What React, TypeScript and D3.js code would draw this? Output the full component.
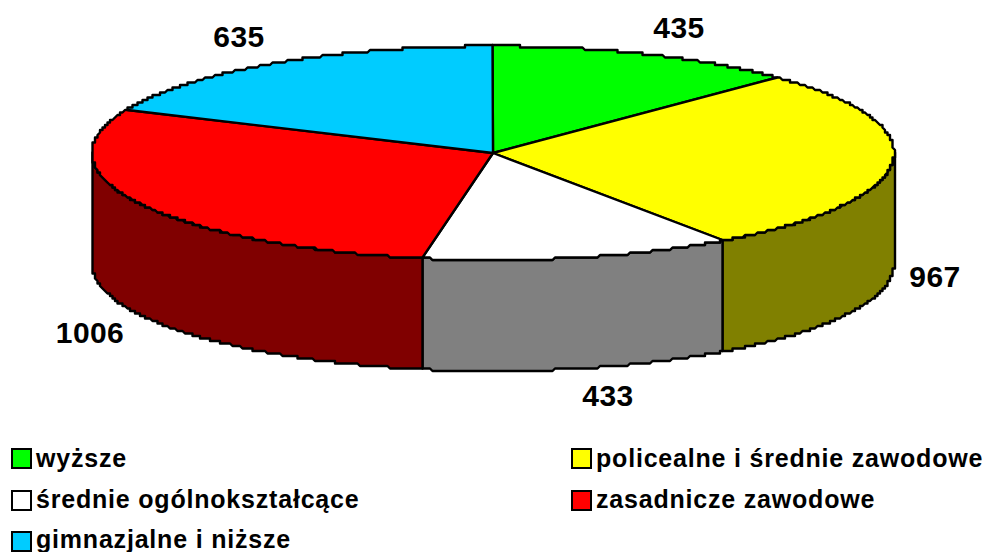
import React from "react";
import * as d3 from "d3";

const categories = [
  "wyższe",
  "policealne i średnie zawodowe",
  "średnie ogólnokształcące",
  "zasadnicze zawodowe",
  "gimnazjalne i niższe",
];
const values = [435, 967, 433, 1006, 635];
const topColors = ["#00ff00", "#ffff00", "#ffffff", "#ff0000", "#00ccff"];
const sideColors = ["#008000", "#808000", "#808080", "#800000", "#006680"];

const width = 985;
const height = 552;
const cx = 493;
const cy = 153;
const rx = 401;
const ry = 107;
const depth = 111;
const font = "'Liberation Sans', Arial, sans-serif";

// where the value labels sit, same order as categories
const labelPos = [
  [679, 38],
  [935, 287],
  [608, 406],
  [90, 343],
  [239, 47],
];

// rim of the disc, snapped to a coarse grid so it keeps the stepped look
const snap = (v: number) => Math.round(v / 2.5) * 2.5;
const rim = (a: number, dy = 0): [number, number] => [
  snap(cx + rx * Math.sin(a)),
  snap(cy - ry * Math.cos(a)) + dy,
];

const arcPoints = (a0: number, a1: number, dy = 0) =>
  d3.range(0, 241).map((i) => rim(a0 + ((a1 - a0) * i) / 240, dy));

const line = d3.line();

const App = () => {
  const slices = d3.pie<number>().sort(null)(values);

  return (
    <svg
      width={width}
      height={height}
      style={{ position: "absolute", left: 0, top: 0, background: "#fff" }}
    >
      {/* side wall, only the front half of the disc shows */}
      {slices.map((s, i) => {
        const a0 = Math.max(s.startAngle, Math.PI / 2);
        const a1 = Math.min(s.endAngle, (3 * Math.PI) / 2);
        if (a0 >= a1) return null;
        const pts = [...arcPoints(a0, a1), ...arcPoints(a1, a0, depth)];
        return (
          <path
            key={i}
            d={line(pts) + "Z"}
            fill={sideColors[i]}
            stroke="#000"
            strokeWidth={2.4}
            strokeLinejoin="round"
          />
        );
      })}
      {/* top of the disc */}
      {slices.map((s, i) => (
        <path
          key={i}
          d={line([[cx, cy], ...arcPoints(s.startAngle, s.endAngle)]) + "Z"}
          fill={topColors[i]}
          stroke="#000"
          strokeWidth={2.4}
          strokeLinejoin="round"
        />
      ))}
      {values.map((v, i) => (
        <text
          key={i}
          x={labelPos[i][0]}
          y={labelPos[i][1]}
          textAnchor="middle"
          fontFamily={font}
          fontWeight="bold"
          fontSize={30}
          letterSpacing={0.4}
        >
          {v}
        </text>
      ))}
      {categories.map((c, i) => {
        const row = Math.floor(i / 2);
        const x = i % 2 === 0 ? 12 : 572;
        return (
          <g key={c}>
            <rect
              x={x}
              y={Math.round(449 + row * 41.5)}
              width={19}
              height={19}
              fill={topColors[i]}
              stroke="#000"
              strokeWidth={2}
            />
            <text
              x={x + 24}
              y={467 + row * 40.5}
              fontFamily={font}
              fontWeight="bold"
              fontSize={25}
              letterSpacing={0.8}
            >
              {c}
            </text>
          </g>
        );
      })}
    </svg>
  );
};

export default App;
